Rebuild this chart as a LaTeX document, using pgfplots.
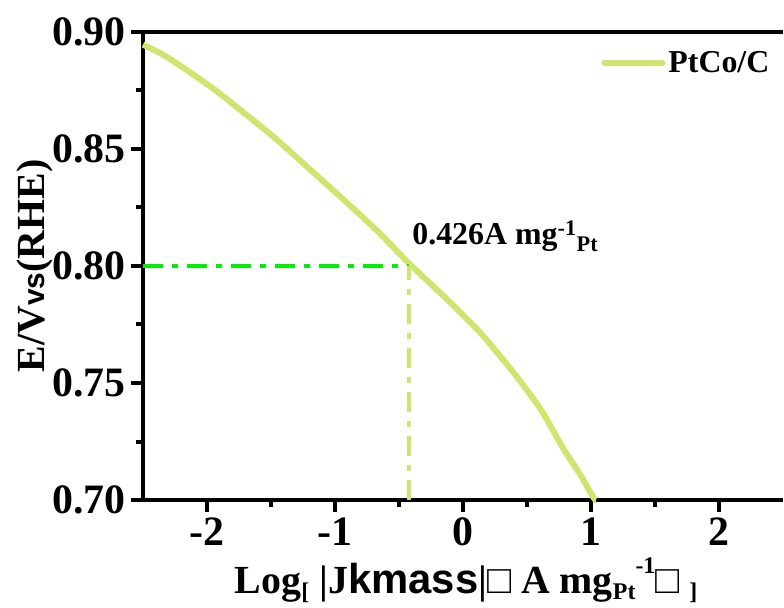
\documentclass[border=0pt]{standalone}
\usepackage{fontspec}
\setmainfont{Liberation Serif}
\newfontfamily\sansb{Liberation Sans}
\usepackage{pgfplots}
\pgfplotsset{compat=1.18}
\usetikzlibrary{calc}
\definecolor{curvecol}{RGB}{206,230,110}
\definecolor{hgreen}{RGB}{0,240,0}
\newcommand{\lo}[1]{\raisebox{-0.14em}{\fontsize{24}{24}\selectfont #1}}
\newcommand{\hi}[1]{\raisebox{0.5em}{\fontsize{24}{24}\selectfont #1}}

\pgfplotstableread{
x y
-2.50 0.8946
-2.34 0.8902
-2.16 0.8838
-1.92 0.8745
-1.56 0.8588
-1.45 0.8538
-1.19 0.8410
-0.93 0.8282
-0.67 0.8150
-0.41 0.8005
-0.12 0.7855
0.14 0.7712
0.40 0.7541
0.61 0.7385
0.79 0.7214
0.91 0.7114
1.02 0.7010
1.04 0.7000
}\curvedata

\begin{document}
\begin{tikzpicture}
\begin{axis}[name=ax, scale only axis, width=640bp, height=468bp,
  xmin=-2.5, xmax=2.5, ymin=0.70, ymax=0.90,
  axis x line*=box, axis y line*=left,
  x axis line style={-, line width=4.5bp},
  y axis line style={-, line width=4.5bp},
  xtick={-2,-1,0,1,2}, xticklabels={-2,-1,0,1,2},
  ytick={0.70,0.75,0.80,0.85,0.90},
  yticklabels={0.70,0.75,0.80,0.85,0.90},
  minor x tick num=1, minor y tick num=1,
  tick align=outside, tick pos=left,
  major tick length=12bp, minor tick length=7bp,
  every tick/.style={black, line width=4bp},
  tick label style={font=\bfseries\fontsize{42}{42}\selectfont},
  xticklabel style={yshift=-2bp},
  yticklabel style={xshift=-2bp},
  clip=false,
  xlabel={\bfseries Log\lo{[} |J{\sansb\fontsize{42}{42}\selectfont kmass}|□ A mg\lo{Pt}\hi{-1}□ \lo{]}},
  ylabel={\bfseries E/V{\sansb\fontsize{30}{30}\selectfont vs}(RHE)},
  every axis x label/.style={at={(axis description cs:0.505,-0.200)}, anchor=base, font=\fontsize{40}{40}\selectfont},
  every axis y label/.style={at={(axis description cs:-0.169,0.5)}, rotate=90, anchor=center, font=\fontsize{40}{40}\selectfont},
  legend style={draw=none, fill=none, inner sep=0pt, anchor=west,
    at={(rel axis cs:0.716,0.934)}, font=\bfseries\fontsize{32}{32}\selectfont,
    nodes={inner sep=3bp}},
  legend image code/.code={\draw[#1, line cap=round] (0,0) -- (58bp,0);},
]
\addplot[curvecol, line width=6bp, smooth, tension=0.4] table[x=x, y=y] {\curvedata};
\addlegendentry{PtCo/C}
\addplot[hgreen, line width=3.5bp, dash pattern=on 20bp off 9bp on 6bp off 9bp, forget plot] coordinates {(-2.5,0.80) (-0.42,0.80)};
\addplot[curvecol, line width=3.5bp, dash pattern=on 20bp off 9bp on 6bp off 9bp, forget plot] coordinates {(-0.42,0.70) (-0.42,0.80)};
\node[anchor=base west, inner sep=0pt, font=\bfseries\fontsize{32}{32}\selectfont] at (axis cs:-0.397,0.809) {0.426A mg\textsuperscript{-1}\textsubscript{Pt}};
\end{axis}
\pgfresetboundingbox
\path ($(ax.south west)+(-143bp,-108bp)$) rectangle ($(ax.north east)+(1bp,32bp)$);
\end{tikzpicture}
\end{document}
